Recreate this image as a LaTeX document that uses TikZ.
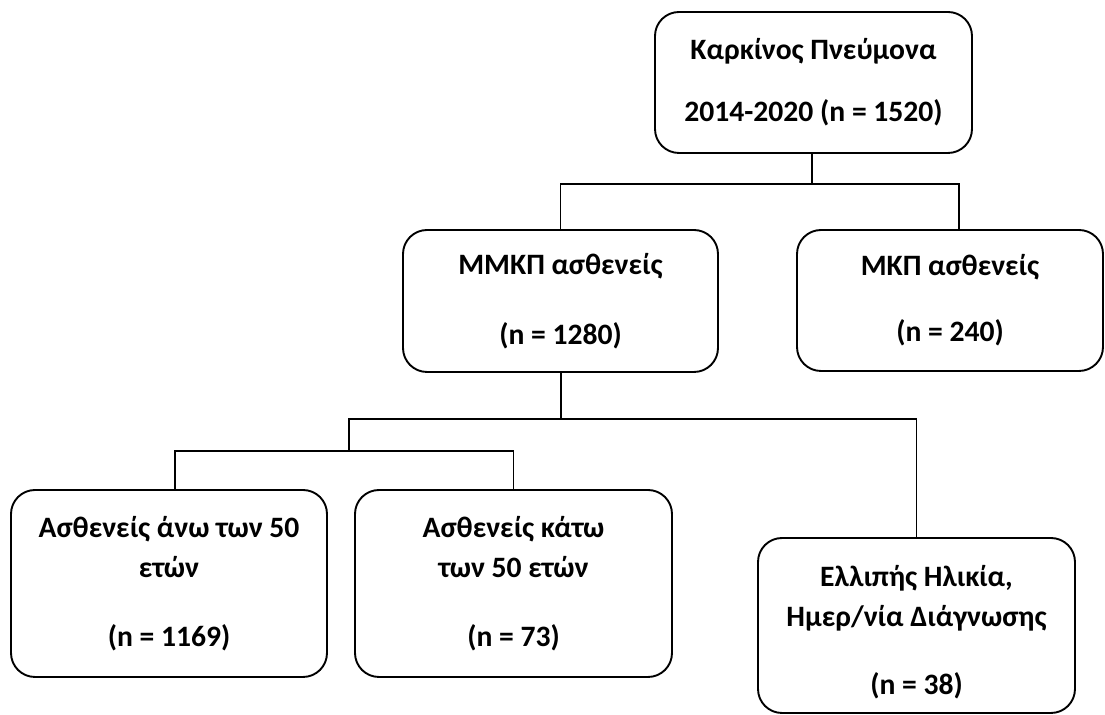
\documentclass[tikz,border=0pt]{standalone}
\usepackage{fontspec}
\setmainfont{Carlito}
\usepackage{tikz}
\usetikzlibrary{positioning}

\begin{document}
\begin{tikzpicture}[x=0.5pt,y=-0.5pt,
	box/.style={draw,rounded corners=12pt,line width=0.95pt,align=center,inner sep=0pt,
		font=\fontsize{14.8}{20}\selectfont\bfseries},
	conn/.style={line width=0.95pt}]
	\useasboundingbox (0,0) rectangle (1105,715);
	% top level
	\node[box,minimum width=158.5pt,minimum height=70.5pt] (karkinos) at (813.5,82.5)
		{Καρκίνος Πνεύμονα\\[11pt]2014-2020 (n = 1520)};
	% second level
	\node[box,minimum width=157.5pt,minimum height=71pt] (mmkp) at (560.5,301)
		{ΜΜΚΠ ασθενείς\\[15pt](n = 1280)};
	\node[box,minimum width=153pt,minimum height=70.5pt] (mkp) at (950,300.5)
		{ΜΚΠ ασθενείς\\[13pt](n = 240)};
	% third level
	\node[box,minimum width=158pt,minimum height=93.5pt] (ano) at (169,583.5)
		{Ασθενείς άνω των 50\\ετών\\[14.5pt](n = 1169)};
	\node[box,minimum width=158.5pt,minimum height=93.5pt] (kato) at (513.5,583.5)
		{Ασθενείς κάτω\\των 50 ετών\\[14.5pt](n = 73)};
	\node[box,minimum width=158.5pt,minimum height=87.5pt] (elliph) at (916.5,625.5)
		{\rule{0pt}{17pt}Ελλιπής Ηλικία,\\Ημερ/νία Διάγνωσης\\[14pt](n = 38)};

	\coordinate (s1) at (812,184);
	\coordinate (s2) at (561,419);
	\coordinate (s3) at (349,451);

	\draw[conn] (karkinos.south -| s1) -- (s1);
	\draw[conn] (mmkp.north) |- (s1) -| ([xshift=4.5pt]mkp.north);
	\draw[conn] (mmkp.south -| s2) -- (s2);
	\draw[conn] (s3) |- (s2) -| (elliph.north);
	\draw[conn] ([xshift=3pt]ano.north) |- (s3) -| (kato.north);
\end{tikzpicture}
\end{document}
